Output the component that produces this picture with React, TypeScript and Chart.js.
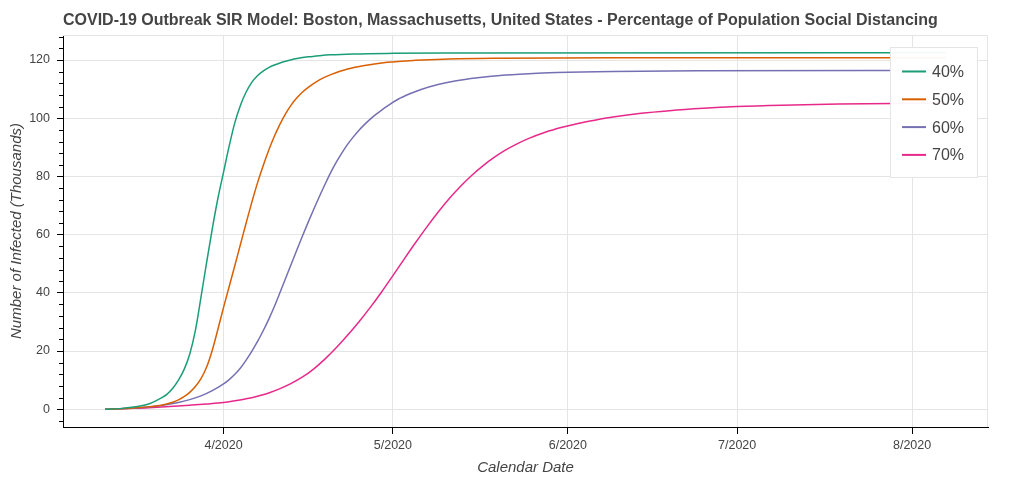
import React, { useEffect, useRef } from 'react';
import { Chart, registerables } from 'chart.js';

Chart.register(...registerables);

const FONT = '"Liberation Sans", Arial, Helvetica, sans-serif';
const TITLE = 'COVID-19 Outbreak SIR Model: Boston, Massachusetts, United States - Percentage of Population Social Distancing';
const X_TITLE = 'Calendar Date';
const Y_TITLE = 'Number of Infected (Thousands)';

const SERIES_LABELS = ['40%', '50%', '60%', '70%'];
const SERIES_COLORS = ['#1b9e77', '#d95f02', '#7570b3', '#e7298a'];

// x = day of year 2020 (Jan 1 = 0), y = infected (thousands)
const DAYS_40 = [70, 73, 76, 78, 79, 80, 81, 82, 83, 84, 85, 86, 87, 88, 89, 90, 91, 92, 93, 94, 95, 96, 97, 98, 99, 100, 101, 102, 103, 104, 106, 108, 110, 114, 121, 130, 219];
const INFECTED_40 = [0, 0.3, 1.0, 2.0, 2.9, 3.9, 5.2, 7.2, 10.0, 13.6, 18.9, 27, 38.5, 50.5, 62, 72.5, 81.5, 90.5, 98.5, 104.5, 109, 112.3, 114.6, 116.2, 117.4, 118.3, 119.0, 119.6, 120.1, 120.5, 121.1, 121.5, 121.8, 122.1, 122.3, 122.4, 122.5];

const DAYS_50 = [70, 75, 78, 80, 82, 83, 84, 85, 86, 87, 88, 89, 90, 91, 92, 93, 94, 95, 96, 97, 98, 99, 100, 101, 102, 103, 104, 105, 106, 108, 110, 113, 116, 120, 125, 130, 140, 160, 219];
const INFECTED_50 = [0, 0.4, 0.9, 1.4, 2.4, 3.2, 4.3, 5.8, 7.8, 10.5, 14.5, 20.3, 27.5, 35, 42.2, 49.4, 56.7, 64, 71.1, 77.7, 83.6, 89, 93.8, 98, 101.6, 104.6, 107, 109, 110.6, 113.2, 115, 116.9, 118.1, 119.2, 119.9, 120.3, 120.6, 120.8, 120.8];

const DAYS_60 = [70, 75, 80, 83, 85, 87, 89, 91, 92, 93, 94, 95, 96, 97, 98, 99, 100, 101, 102, 103, 104, 105, 106, 107, 108, 109, 110, 111, 112, 113, 114, 115, 116, 117, 118, 120, 122, 124, 126, 129, 132, 136, 140, 145, 150, 160, 175, 219];
const INFECTED_60 = [0, 0.4, 1.3, 2.3, 3.3, 4.6, 6.4, 8.7, 10.2, 12.0, 14.2, 16.9, 19.9, 23.2, 26.9, 30.9, 35.3, 40.1, 45.0, 49.9, 54.8, 59.6, 64.3, 68.8, 73.2, 77.4, 81.4, 85.0, 88.2, 91.1, 93.6, 95.9, 97.9, 99.7, 101.3, 104.2, 106.6, 108.4, 109.9, 111.6, 112.8, 113.9, 114.7, 115.3, 115.7, 116.1, 116.3, 116.4];

const DAYS_70 = [70, 75, 80, 85, 88, 91, 93, 95, 97, 99, 101, 103, 105, 107, 109, 111, 113, 115, 117, 119, 121, 123, 125, 127, 129, 131, 133, 135, 137, 139, 141, 143, 145, 148, 151, 154, 157, 160, 165, 170, 176, 182, 190, 200, 210, 219];
const INFECTED_70 = [0, 0.3, 0.8, 1.4, 1.8, 2.3, 2.9, 3.6, 4.5, 5.6, 7.1, 8.9, 11.1, 13.9, 17.3, 21.2, 25.5, 30.1, 35, 40.3, 45.9, 51.6, 57.2, 62.6, 67.7, 72.4, 76.6, 80.4, 83.7, 86.6, 89.1, 91.2, 93, 95.2, 96.9, 98.3, 99.4, 100.4, 101.7, 102.6, 103.4, 104, 104.5, 104.9, 105.1, 105.2];

const SERIES_DAYS = [DAYS_40, DAYS_50, DAYS_60, DAYS_70];
const SERIES_VALUES = [INFECTED_40, INFECTED_50, INFECTED_60, INFECTED_70];

const MONTH_TICK_DAYS = [91, 121, 152, 182, 213];
const MONTH_TICK_LABELS = ['4/2020', '5/2020', '6/2020', '7/2020', '8/2020'];
const Y_MAJOR_TICKS = [0, 20, 40, 60, 80, 100, 120];
const Y_MINOR_TICKS = [-4, 4, 8, 12, 16, 24, 28, 32, 36, 44, 48, 52, 56, 64, 68, 72, 76, 84, 88, 92, 96, 104, 108, 112, 116, 124, 128];
const X_MIN = 62.55;
const X_MAX = 226.45;
const Y_MIN = -6.1;
const Y_MAX = 128.6;

const decorPlugin = {
  id: 'decor',
  beforeDatasetsDraw(chart: any) {
    const { ctx, chartArea: a } = chart;
    ctx.save();
    ctx.strokeStyle = '#e5e5e5';
    ctx.lineWidth = 1;
    ctx.beginPath();
    ctx.moveTo(a.left, a.top + 0.5);
    ctx.lineTo(a.right - 0.5, a.top + 0.5);
    ctx.lineTo(a.right - 0.5, a.bottom);
    ctx.stroke();
    ctx.restore();
  },
  afterDraw(chart: any) {
    const { ctx, chartArea: a } = chart;
    const ys = chart.scales.y;
    ctx.save();
    // minor ticks
    ctx.strokeStyle = '#000';
    ctx.lineWidth = 1;
    ctx.beginPath();
    Y_MINOR_TICKS.forEach((v) => {
      const py = Math.round(ys.getPixelForValue(v)) + 0.5;
      ctx.moveTo(a.left - 4, py);
      ctx.lineTo(a.left, py);
    });
    ctx.stroke();

    // title
    ctx.font = `bold 16px ${FONT}`;
    ctx.fillStyle = '#444444';
    ctx.textAlign = 'left';
    ctx.textBaseline = 'middle';
    ctx.fillText(TITLE, a.left, 21);

    // legend
    const lx = a.right - 98;
    const ly = a.top + 12;
    const lw = 87;
    const lh = 130;
    ctx.fillStyle = 'rgba(255,255,255,0.95)';
    ctx.fillRect(lx, ly, lw, lh);
    ctx.strokeStyle = '#e5e5e5';
    ctx.strokeRect(lx + 0.5, ly + 0.5, lw, lh);
    ctx.font = `16px ${FONT}`;
    chart.data.datasets.forEach((ds: any, i: number) => {
      const yc = ly + 24.5 + i * 27.8;
      ctx.strokeStyle = ds.borderColor;
      ctx.lineWidth = 2;
      ctx.beginPath();
      ctx.moveTo(lx + 12, yc);
      ctx.lineTo(lx + 36, yc);
      ctx.stroke();
      ctx.fillStyle = '#444444';
      ctx.fillText(ds.label, lx + 42, yc + 1);
    });
    ctx.restore();
  },
};

export default function App() {
  const ref = useRef<HTMLCanvasElement>(null);
  useEffect(() => {
    if (!ref.current) return;
    const datasets = SERIES_LABELS.map((label, i) => ({
      label,
      data: SERIES_DAYS[i].map((d, j) => ({ x: d, y: SERIES_VALUES[i][j] })),
      borderColor: SERIES_COLORS[i],
      backgroundColor: SERIES_COLORS[i],
      borderWidth: 1.5,
      pointRadius: 0,
      fill: false,
      cubicInterpolationMode: 'monotone' as const,
    }));
    const chart = new Chart(ref.current, {
      type: 'line',
      data: { datasets },
      plugins: [decorPlugin],
      options: {
        animation: false,
        responsive: false,
        devicePixelRatio: 1,
        layout: { padding: { top: 35, right: 36, left: 0, bottom: 0 } },
        plugins: {
          legend: { display: false },
          title: { display: false },
          tooltip: { enabled: false },
        },
        scales: {
          x: {
            type: 'linear',
            min: X_MIN,
            max: X_MAX,
            afterBuildTicks: (s: any) => {
              s.ticks = MONTH_TICK_DAYS.map((v) => ({ value: v }));
            },
            afterFit: (s: any) => {
              s.height = 55;
            },
            ticks: {
              autoSkip: false,
              maxRotation: 0,
              padding: 4,
              color: '#444444',
              font: { family: FONT, size: 12.5 },
              callback: (v: any) => MONTH_TICK_LABELS[MONTH_TICK_DAYS.indexOf(Number(v))] ?? '',
            },
            grid: { color: '#e5e5e5', tickColor: '#000', tickLength: 7, drawTicks: true },
            border: { color: '#000', width: 1 },
            title: {
              display: true,
              text: X_TITLE,
              color: '#444444',
              font: { family: FONT, size: 15, style: 'italic' },
              padding: { top: 0, bottom: 5 },
            },
          },
          y: {
            type: 'linear',
            min: Y_MIN,
            max: Y_MAX,
            afterBuildTicks: (s: any) => {
              s.ticks = Y_MAJOR_TICKS.map((v) => ({ value: v }));
            },
            afterFit: (s: any) => {
              s.width = 63;
            },
            ticks: {
              padding: 7,
              color: '#444444',
              font: { family: FONT, size: 12.5 },
            },
            grid: { color: '#e5e5e5', tickColor: '#000', tickLength: 6, drawTicks: true },
            border: { color: '#000', width: 1 },
            title: {
              display: true,
              text: Y_TITLE,
              color: '#444444',
              font: { family: FONT, size: 15, style: 'italic' },
              padding: { top: 8, bottom: 0 },
            },
          },
        },
      },
    });
    return () => chart.destroy();
  }, []);
  return (
    <div style={{ position: 'fixed', left: 0, top: 0, width: 1024, height: 482, background: '#fff' }}>
      <canvas ref={ref} width={1024} height={482} style={{ display: 'block' }} />
    </div>
  );
}
